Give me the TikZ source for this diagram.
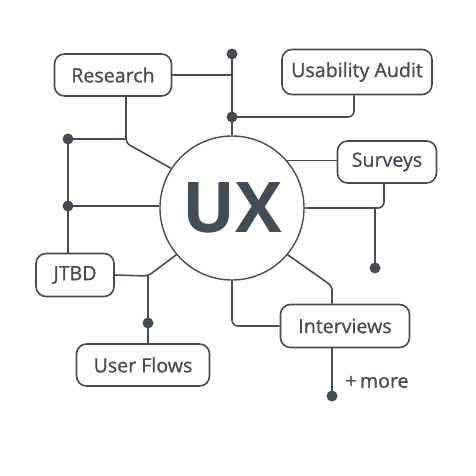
\documentclass[tikz,border=0pt]{standalone}
\usepackage{fontspec}
\setmainfont{Open Sans}
\newfontfamily\labelfont{Open Sans}[FakeBold=1]
\usetikzlibrary{calc}
\definecolor{ink}{HTML}{444C56}

\begin{document}
\begin{tikzpicture}[x=1pt, y=-1pt, line width=1.6pt, draw=ink, ink,
    box/.style={draw=ink, rounded corners=10pt, minimum height=42pt, inner sep=0pt,
        font=\labelfont\fontsize{19.6}{22}\selectfont},
    dot/.style={fill=ink}]
                \useasboundingbox (0,0) rectangle (476,476);
                % centre
                \node[circle, draw=ink, line width=1.4pt, minimum size=144pt, inner sep=0pt,
                    font=\fontsize{70}{70}\bfseries] (ux) at (232,208) {UX};
                % topics
                \node[box, minimum width=117pt] (research) at (113,75) {Research};
                \node[box, minimum width=150pt, minimum height=45pt] (usab) at (357,72) {Usability Audit};
                \node[box, minimum width=99pt] (surveys) at (387,162) {Surveys};
                \node[box, minimum width=78pt, minimum height=43pt] (jtbd) at (75,275) {JTBD};
                \node[box, minimum width=133pt] (flows) at (143,365) {User Flows};
                \node[box, minimum width=129pt, minimum height=43pt] (interv) at (345,326) {Interviews};
                \node[font=\labelfont\fontsize{19.6}{22}\selectfont] (more) at (377,382) {+\,more};
                % junctions
                \coordinate (dtop) at (232,54);
                \coordinate (dmid) at (232,117);
                \coordinate (dleft1) at (68,139);
                \coordinate (dleft2) at (68,206);
                \coordinate (dflows) at (148,323);
                \coordinate (dsurv) at (375,268);
                \coordinate (dmore) at (332,396);
                \coordinate (rb) at (126,143);
                \coordinate (jb) at (148,276);
                \coordinate (ib) at (332,286);
                % connectors
                \draw (dtop) -- (ux.north);
                \draw (research.east) -- (research.east -| dtop);
                \draw[rounded corners=6pt] ([xshift=-3pt]usab.south) |- (dmid);
                \draw[rounded corners=4pt] ([xshift=13pt]research.south) -- (rb) -- (ux.147);
                \draw (dleft1) -- (dleft1 -| rb);
                \draw (dleft1) -- (dleft1 |- jtbd.north);
                \draw (dleft2) -- (dleft2 -| ux.west);
                \draw[rounded corners=4pt] (jtbd.east) -- (jb) -- (ux.220);
                \draw (jb) -- (jb |- flows.north);
                \draw (ux.41) -- (ux.41 -| surveys.west);
                \draw[rounded corners=6pt] ([xshift=-3pt]surveys.south) |- (ux.east);
                \draw (dsurv) -- (dsurv |- ux.east);
                \draw[rounded corners=4pt] (ux.-40) -- (ib) -- ([xshift=-13pt]interv.north);
                \draw[rounded corners=6pt] (ux.south) |- (interv.west);
                \draw ([xshift=-13pt]interv.south) -- (dmore);
                % dots
                \foreach \d in {dtop, dmid, dleft1, dleft2, dflows, dsurv, dmore}
                    \fill[dot] (\d) circle (5.5pt);
            \end{tikzpicture}
\end{document}
